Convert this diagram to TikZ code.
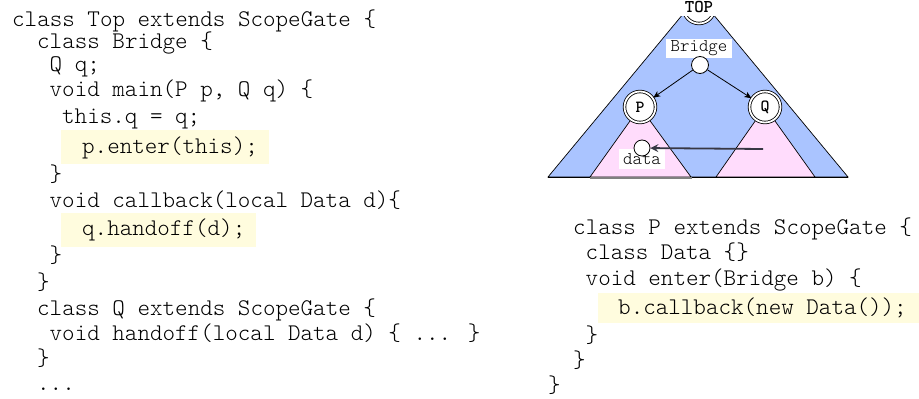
\documentclass[tikz,border=0pt]{standalone}
\usepackage{fontspec}
\newfontfamily\codefont{lmmonolt10-regular.otf}[BoldFont=lmmonolt10-bold.otf]
\usetikzlibrary{arrows.meta}
\definecolor{hl}{RGB}{255,252,222}
\definecolor{blueT}{RGB}{170,196,255}
\definecolor{pinkT}{RGB}{255,220,252}
\definecolor{arrowgray}{RGB}{55,55,68}
\begin{document}
\begin{tikzpicture}[x=1pt,y=-1pt,
  code/.style={anchor=base west, inner sep=0pt, font=\fontsize{23.9}{28}\selectfont\codefont},
  hlbox/.style={fill=hl},
  lbl/.style={fill=white, inner sep=0pt, font=\fontsize{18}{20}\selectfont\codefont},
  gate/.style={circle, draw=black, fill=white, double=white, double distance=1.8pt, line width=0.8pt,
    minimum size=31pt, inner sep=0pt, font=\fontsize{17}{18}\selectfont\codefont\bfseries},
  dot/.style={circle, draw=black, fill=white, line width=0.8pt, inner sep=0pt},
  tri/.style={draw=black, line width=0.7pt, line join=miter},
  link/.style={line width=0.8pt, -{Stealth[length=7pt,width=6pt,inset=2pt]}, shorten >=0.3pt},
  flow/.style={arrowgray, line width=1.8pt, -{Stealth[length=8pt,width=8pt,inset=3pt]}},
]
\useasboundingbox (0,0) rectangle (919,399);

% highlight boxes
\fill[hlbox] (61,130) rectangle (269,164);
\fill[hlbox] (61,213) rectangle (256,247);
\fill[hlbox] (598,293) rectangle (919,323);

% left code
\node[code] (l1)  at (12,26)   {class Top extends ScopeGate \{};
\node[code] (l2)  at (37,48)   {class Bridge \{};
\node[code] (l3)  at (49.5,71) {Q q;};
\node[code] (l4)  at (49.5,96) {void main(P p, Q q) \{};
\node[code] (l5)  at (62,123)  {this.q = q;};
\node[code] (l6)  at (82,153)  {p.enter(this);};
\node[code] (l7)  at (49.5,181) {\}};
\node[code] (l8)  at (49.5,207) {void callback(local Data d)\{};
\node[code] (l9)  at (82,235)  {q.handoff(d);};
\node[code] (l10) at (49.5,262) {\}};
\node[code] (l11) at (37,289)  {\}};
\node[code] (l12) at (37,315)  {class Q extends ScopeGate \{};
\node[code] (l13) at (49.5,340) {void handoff(local Data d) \{ ... \}};
\node[code] (l14) at (37,365)  {\}};
\node[code] (l15) at (37,390)  {...};

% right code
\node[code] (r1) at (573,234)   {class P extends ScopeGate \{};
\node[code] (r2) at (585.5,259) {class Data \{\}};
\node[code] (r3) at (585.5,285) {void enter(Bridge b) \{};
\node[code] (r4) at (618,314)   {b.callback(new Data());};
\node[code] (r5) at (585.5,342) {\}};
\node[code] (r6) at (573,367)   {\}};
\node[code] (r7) at (548,392)   {\}};

% tree
\filldraw[tri, fill=blueT] (698,-4) -- (548,177) -- (848,177) -- cycle;
\filldraw[tri, fill=pinkT] (640,107) -- (590,177) -- (691,177) -- cycle;
\filldraw[tri, fill=pinkT] (765,107) -- (716,177) -- (815,177) -- cycle;
\draw[line width=0.8pt] (548,177) -- (848,177);
\draw[gray, line width=2pt] (590,177.5) -- (692,177.5);

\node[gate] (top) at (699,8) {};
\node[lbl, font=\fontsize{18}{20}\selectfont\codefont\bfseries, minimum width=36pt, minimum height=18pt] (toplbl) at (699,7) {TOP};
\node[lbl, minimum width=66pt, minimum height=19pt] (bridgelbl) at (699,48.5) {Bridge};
\node[dot, minimum size=17pt] (bridge) at (700,65) {};
\node[gate] (p) at (640,107) {P};
\node[gate] (q) at (765,107) {Q};
\node[lbl, minimum width=46pt, minimum height=20pt] (datalbl) at (642,159) {data};
\node[dot, minimum size=16pt] (data) at (642,148) {};

\draw[link] (bridge) -- (p);
\draw[link] (bridge) -- (q);
\coordinate (src) at (763,149);
\draw[flow] (src) -- (data);
\end{tikzpicture}
\end{document}
